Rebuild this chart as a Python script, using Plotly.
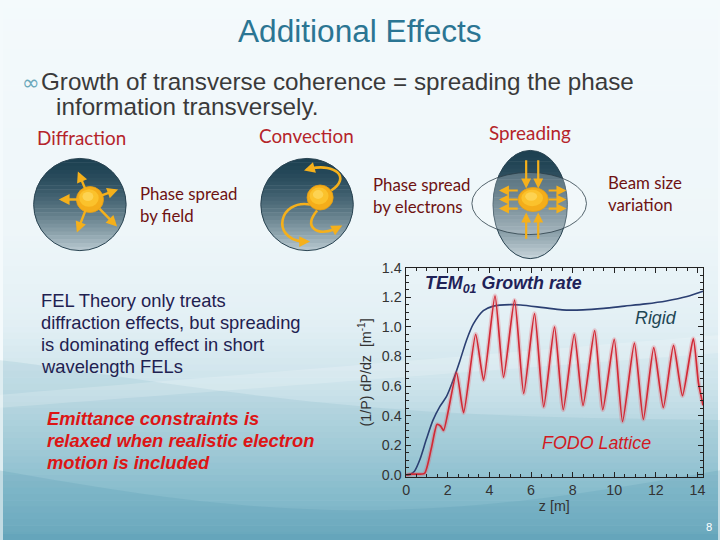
import numpy as np
import plotly.graph_objects as go

# ---------------- data ----------------
z_fodo = [0, 0.3, 0.88, 1.21, 1.48, 1.65, 1.8, 2.42, 2.76, 3.34, 3.72, 4.27, 4.68,
          5.21, 5.65, 6.17, 6.61, 7.13, 7.55, 8.08, 8.5, 9.06, 9.45, 10.0, 10.4,
          10.97, 11.4, 11.9, 12.36, 12.85, 13.28, 13.8, 14.05, 14.27]
g_fodo = [0, 0.005, 0.01, 0.18, 0.34, 0.33, 0.30, 0.69, 0.42, 0.95, 0.64, 1.21, 0.66,
          1.18, 0.55, 1.09, 0.46, 1.0, 0.44, 0.95, 0.47, 0.975, 0.44, 0.915, 0.36,
          0.89, 0.375, 0.86, 0.455, 0.875, 0.535, 0.92, 0.62, 0.47]
z_rigid = [0, 0.2, 0.4, 0.65, 0.97, 1.29, 1.61, 1.94, 2.26, 2.58, 2.9, 3.23, 3.71,
           4.19, 5.0, 5.5, 6.6, 7.5, 8.5, 9.5, 10.5, 11.5, 12.5, 13.5, 14.27]
g_rigid = [0, 0.005, 0.025, 0.10, 0.24, 0.37, 0.46, 0.53, 0.64, 0.77, 0.91, 1.02, 1.11,
           1.14, 1.15, 1.148, 1.13, 1.115, 1.115, 1.125, 1.14, 1.155, 1.175, 1.205, 1.24]
x_ticks = [0, 2, 4, 6, 8, 10, 12, 14]
y_ticks = [0.0, 0.2, 0.4, 0.6, 0.8, 1.0, 1.2, 1.4]

W, H = 720, 540
# slide layout positions are given in target-picture pixels; map to figure paper
SX, OX, SY, OY = 0.988, 5.5, 0.972, 8.9
def PX(x): return ((x - OX) / SX) / W
def PY(y): return 1 - ((y - OY) / SY) / H
FS = 1.02

def hex2rgb(h):
    h = h.lstrip('#')
    return [int(h[i:i + 2], 16) for i in (0, 2, 4)]

def mix(c1, c2, t):
    a, b = hex2rgb(c1), hex2rgb(c2)
    return 'rgb(%d,%d,%d)' % tuple(round(a[i] + (b[i] - a[i]) * t) for i in range(3))

shapes = []
annotations = []

# ---------------- background gradient ----------------
stops = [(-10, '#f4fafc'), (230, '#eef6f9'), (320, '#e3f0f5'), (390, '#cbe2ea'),
         (450, '#a8cfdb'), (500, '#86bccd'), (550, '#66a7bc')]
for (ya, ca), (yb, cb) in zip(stops[:-1], stops[1:]):
    n = max(1, int((yb - ya) / 6))
    for i in range(n):
        y0 = ya + (yb - ya) * i / n
        y1 = ya + (yb - ya) * (i + 1) / n + 0.6
        col = mix(ca, cb, (i + 0.5) / n)
        shapes.append(dict(type='rect', xref='paper', yref='paper', x0=0, x1=1,
                           y0=max(0, PY(y1)), y1=min(1, PY(y0)), fillcolor=col,
                           line=dict(width=0), layer='below'))

def wave_path(pts_top, pts_bot):
    s = 'M %f,%f ' % (PX(pts_top[0][0]), PY(pts_top[0][1]))
    for p in pts_top[1:]:
        s += 'L %f,%f ' % (PX(p[0]), PY(p[1]))
    for p in pts_bot[::-1]:
        s += 'L %f,%f ' % (PX(p[0]), PY(p[1]))
    return s + 'Z'

xs = np.linspace(0, 720, 40)
top1 = [(x, 360 + 60 * (x / 720) ** 1.5 + 25 * np.sin(x / 720 * np.pi)) for x in xs]
bot1 = [(x, 540) for x in xs]
shapes.append(dict(type='path', xref='paper', yref='paper', path=wave_path(top1, bot1),
                   fillcolor='rgba(120,175,195,0.18)', line=dict(width=0), layer='below'))
top2 = [(x, 470 + 40 * np.sin(x / 720 * np.pi)) for x in xs]
shapes.append(dict(type='path', xref='paper', yref='paper', path=wave_path(top2, bot1),
                   fillcolor='rgba(80,150,175,0.2)', line=dict(width=0), layer='below'))
top3 = [(x, 395 - 60 * (x / 720)) for x in xs]
bot3 = [(x, 408 - 55 * (x / 720)) for x in xs]
shapes.append(dict(type='path', xref='paper', yref='paper', path=wave_path(top3, bot3),
                   fillcolor='rgba(255,255,255,0.18)', line=dict(width=0), layer='below'))

# ---------------- diagram helpers ----------------
def ellipse_gradient(cx, cy, rx, ry, ctop, cbot, n=24, layer='below'):
    for i in range(n):
        ya = cy - ry + 2 * ry * i / n
        yb = cy - ry + 2 * ry * (i + 1) / n + 0.5
        yb = min(yb, cy + ry)
        ys = np.linspace(ya, yb, 6)
        half = rx * np.sqrt(np.clip(1 - ((ys - cy) / ry) ** 2, 0, 1))
        left = [(cx - h, y) for h, y in zip(half, ys)]
        right = [(cx + h, y) for h, y in zip(half, ys)][::-1]
        pts = left + right
        s = 'M ' + ' L '.join('%f,%f' % (PX(x), PY(y)) for x, y in pts) + ' Z'
        t = (i + 0.5) / n
        col = mix(ctop, cbot, t ** 1.6)
        shapes.append(dict(type='path', xref='paper', yref='paper', path=s,
                           fillcolor=col, line=dict(width=0), layer=layer))

def ellipse(cx, cy, rx, ry, fill, line_col, lw, layer='below'):
    shapes.append(dict(type='circle', xref='paper', yref='paper',
                       x0=PX(cx - rx), x1=PX(cx + rx), y0=PY(cy + ry), y1=PY(cy - ry),
                       fillcolor=fill, line=dict(color=line_col, width=lw), layer=layer))

def ball(cx, cy, rx, ry):
    ellipse(cx, cy, rx, ry, '#f4ad1a', '#e9a012', 0.8, layer='above')
    ellipse(cx - 1, cy - 1.5, rx * 0.72, ry * 0.68, '#fbc22c', 'rgba(0,0,0,0)', 0, layer='above')
    ellipse(cx - 2, cy - 3, rx * 0.4, ry * 0.35, '#fdd352', 'rgba(0,0,0,0)', 0, layer='above')

ARROW = '#f5b01b'

def arrow(x0, y0, x1, y1, w=2.4):
    annotations.append(dict(x=PX(x1), y=PY(y1), ax=(x0 - x1) / SX, ay=(y0 - y1) / SY,
                            xref='paper', yref='paper', axref='pixel', ayref='pixel',
                            text='', showarrow=True, arrowhead=2, arrowsize=0.9,
                            arrowwidth=w, arrowcolor=ARROW))

def curve(path_pts, w=2.6):
    (x0, y0), (x1, y1), (x2, y2), (x3, y3) = path_pts
    s = 'M %f,%f C %f,%f %f,%f %f,%f' % (PX(x0), PY(y0), PX(x1), PY(y1), PX(x2), PY(y2),
                                          PX(x3), PY(y3))
    shapes.append(dict(type='path', xref='paper', yref='paper', path=s,
                       line=dict(color=ARROW, width=w), layer='above'))

# Diffraction
ellipse_gradient(82, 205, 46, 46, '#1d4152', '#b9c9d0')
ellipse(82, 205, 46, 46, 'rgba(0,0,0,0)', '#2a4452', 1)
for tx, ty in [(80, 172), (61, 200), (120, 190), (119, 227), (79, 233)]:
    dx, dy = tx - 92, ty - 200
    arrow(92 + dx * 0.3, 200 + dy * 0.3, tx, ty)
ball(92, 200, 13.5, 13)

# Convection
ellipse_gradient(308, 205, 46, 46, '#1d4152', '#b9c9d0')
ellipse(308, 205, 46, 46, 'rgba(0,0,0,0)', '#2a4452', 1)
curve([(332, 191), (352, 178), (336, 164), (312, 169)])
arrow(314, 168.5, 305, 171)
curve([(311, 205), (280, 200), (272, 238), (303, 242)])
arrow(301, 242, 311, 242)
curve([(318, 211), (304, 228), (318, 236), (335, 230)])
arrow(333, 231, 343, 226)
ball(321, 198, 13, 12.5)

# Spreading
ellipse_gradient(530, 205, 37, 54, '#1d4051', '#c8d5db', n=30)
ellipse(530, 205, 37, 54, 'rgba(0,0,0,0)', '#2a4452', 1)
ellipse(529, 204, 57, 31, 'rgba(255,255,255,0.22)', '#2b3d47', 0.8)
for x in (526, 538):
    arrow(x, 160, x, 189, w=2.2)
    arrow(x, 240, x, 213, w=2.2)
for y in (191, 200, 209):
    arrow(519, y, 499, y, w=2.2)
    arrow(547, y, 566, y, w=2.2)
ball(533, 200, 15, 12)

# ---------------- texts ----------------
def txt(x, y, s, size, color, family='Liberation Sans', xanchor='left', **kw):
    annotations.append(dict(x=PX(x), y=PY(y), xref='paper', yref='paper', text=s,
                            showarrow=False, xanchor=xanchor, yanchor='middle',
                            font=dict(size=size * FS, color=color, family=family), **kw))

txt(361, 32, 'Additional Effects', 31, '#2b7593', xanchor='center')
txt(22, 83, '∞', 21, '#6aa7ba', family='DejaVu Sans')
txt(41, 82, 'Growth of transverse coherence = spreading the phase', 23.8, '#3a3a3a')
txt(56, 107, 'information transversely.', 23.8, '#3a3a3a')

CAL = 'Lato'
txt(37, 138, 'Diffraction', 18.5, '#b5242a', family=CAL)
txt(258, 136, 'Convection', 18.5, '#b5242a', family=CAL)
txt(487, 133, 'Spreading', 18.5, '#b5242a', family=CAL)
txt(140, 194, 'Phase spread', 16.5, '#6e1212', family=CAL)
txt(140, 216, 'by field', 16.5, '#6e1212', family=CAL)
txt(372, 185, 'Phase spread', 16.5, '#6e1212', family=CAL)
txt(372, 207, 'by electrons', 16.5, '#6e1212', family=CAL)
txt(605, 183, 'Beam size', 16.5, '#6e1212', family=CAL)
txt(605, 205, 'variation', 16.5, '#6e1212', family=CAL)

for i, line in enumerate(['FEL Theory only treats', 'diffraction effects, but spreading',
                          'is dominating effect in short', 'wavelength FELs']):
    txt(41, 301 + 22 * i, line, 18, '#1f2150')
for i, line in enumerate(['<b><i>Emittance constraints is</i></b>',
                          '<b><i>relaxed when realistic electron</i></b>',
                          '<b><i>motion is included</i></b>']):
    txt(47, 419 + 21.5 * i, line, 18, '#dd1515')

txt(423, 285, '<b><i>TEM<sub>01</sub> Growth rate</i></b>', 17.5, '#1f2258')
txt(632, 318, '<i>Rigid</i>', 17.5, '#1e4755')
txt(540, 443, '<i>FODO Lattice</i>', 17.5, '#d21a22')
txt(708, 527, '8', 11, '#ffffff', xanchor='center')

# ---------------- chart ----------------
fig = go.Figure()
fig.add_trace(go.Scatter(x=z_rigid, y=g_rigid, mode='lines', name='Rigid',
                         line=dict(color='#2b3f72', width=1.6, shape='spline', smoothing=0.8)))
fig.add_trace(go.Scatter(x=z_fodo, y=g_fodo, mode='lines', name='FODO Lattice',
                         line=dict(color='rgba(230,80,90,0.25)', width=4.5, shape='spline',
                                   smoothing=0.55)))
fig.add_trace(go.Scatter(x=z_fodo, y=g_fodo, mode='lines', name='FODO Lattice',
                         line=dict(color='#d22a36', width=1.7, shape='spline', smoothing=0.55)))

axfont = dict(family='Liberation Sans', size=14 * FS, color='#333333')
fig.update_layout(
    width=W, height=H, autosize=False, margin=dict(l=0, r=0, t=0, b=0),
    paper_bgcolor='#f4fafc', plot_bgcolor='rgba(0,0,0,0)', showlegend=False,
    shapes=shapes, annotations=annotations,
    xaxis=dict(domain=[PX(406), PX(702)], range=[-0.03, 14.27], tickvals=x_ticks,
               ticks='inside', ticklen=5, tickcolor='#222', showline=True, linecolor='#222',
               linewidth=1, mirror='allticks', showgrid=False, zeroline=False,
               tickfont=axfont,
               minor=dict(ticks='inside', ticklen=3, dtick=0.5, tickcolor='#222', showgrid=False),
               title=dict(text='z [m]', font=axfont, standoff=2)),
    yaxis=dict(domain=[PY(477), PY(268)], range=[-0.015, 1.4], tickvals=y_ticks,
               tickformat='.1f', ticks='inside', ticklen=5, tickcolor='#222', showline=True,
               linecolor='#222', linewidth=1, mirror='allticks', showgrid=False,
               zeroline=False, tickfont=axfont,
               minor=dict(ticks='inside', ticklen=3, dtick=0.05, tickcolor='#222', showgrid=False),
               title=dict(text='(1/P) dP/dz  [m<sup>-1</sup>]', font=axfont, standoff=6)),
)
bg_css = ("linear-gradient(to bottom, #f4fafc 0%, #eef6f9 43%, #e3f0f5 59%, "
          "#cbe2ea 72%, #a8cfdb 83%, #86bccd 93%, #68a9be 100%)")
fig.write_html('out.html',
               config={'displayModeBar': False, 'responsive': False, 'staticPlot': True},
               post_script=("var h=document.documentElement,b=document.body;"
                            "h.style.margin='0';h.style.padding='0';h.style.overflow='hidden';"
                            "b.style.margin='0';b.style.padding='0';b.style.overflow='hidden';"
                            "h.style.background='" + bg_css + "';"
                            "b.style.background='" + bg_css + "';"
                            "var d=document.getElementById('{plot_id}');"
                            "d.style.position='fixed';d.style.left='0px';d.style.top='0px';"))
